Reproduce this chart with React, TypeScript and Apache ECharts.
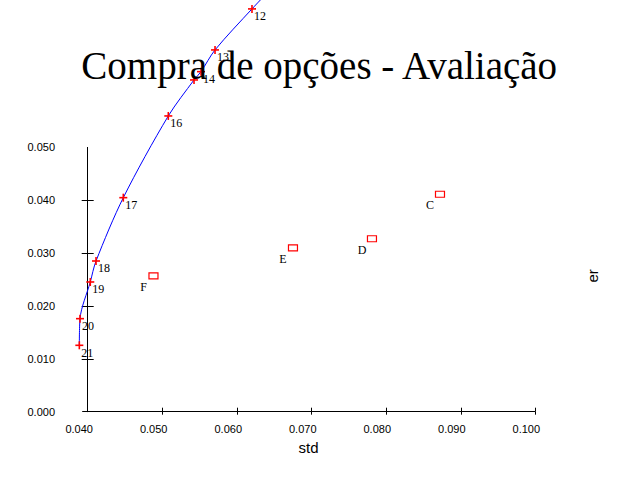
import React, { useEffect, useRef } from "react";
import * as echarts from "echarts";

const frontierLabels = ["21", "20", "19", "18", "17", "16", "", "14", "13", "12"];
const frontierStd = [0.03881, 0.0389, 0.04028, 0.04105, 0.04471, 0.05075, 0.0542, 0.05514, 0.05702, 0.06198];
const frontierEr = [0.01256, 0.0176, 0.02454, 0.02851, 0.04049, 0.05595, 0.06276, 0.06433, 0.06844, 0.0762];
// continuation of the frontier curve beyond the top of the picture
const tailStd = [0.06466];
const tailEr = [0.08017];

const assetNames = ["C", "D", "E", "F"];
const assetStd = [0.08721, 0.07808, 0.06748, 0.04876];
const assetEr = [0.04114, 0.03272, 0.03101, 0.02571];

const xTicks = [0.05, 0.06, 0.07, 0.08, 0.09, 0.1];
const xLabels = [0.04, 0.05, 0.06, 0.07, 0.08, 0.09, 0.1];
const yTicks = [0.01, 0.02, 0.03, 0.04];
const yLabels = [0, 0.01, 0.02, 0.03, 0.04, 0.05];

const titleText = "Compra de opções - Avaliação";
const xName = "std";
const yName = "er";

const SANS = '"Liberation Sans", Arial, sans-serif';
const SERIF = '"Liberation Serif", "Times New Roman", serif';

export default function App() {
  const ref = useRef<HTMLDivElement>(null);
  useEffect(() => {
    document.body.style.margin = "0";
    const chart = echarts.init(ref.current!, null, { renderer: "svg" });
    const fmt = (v: number) => Number(v).toFixed(3);
    const pxPerUnit = 7452;
    const gridLeft = 77;
    const yAxisX = 87.7;
    const xMin = 0.04 - (yAxisX + 0.5 - gridLeft) / pxPerUnit;
    const xLineStart = 0.04 - 6 / pxPerUnit;
    const baseX = {
      type: "value",
      min: xMin,
      max: 0.1,
      position: "bottom",
      splitLine: { show: false },
      axisLine: { show: false },
    };
    const baseY = {
      type: "value",
      min: 0,
      max: 0.05,
      interval: 0.01,
      position: "left",
      offset: -(yAxisX - gridLeft),
      splitLine: { show: false },
      axisLine: { show: true, lineStyle: { color: "#000", width: 1 } },
    };
    const lineData = frontierStd.map((s, i) => [s, frontierEr[i]]).concat(tailStd.map((s, i) => [s, tailEr[i]]));
    const crossData = frontierStd.map((s, i) => [s, frontierEr[i]]);
    const assetData = assetStd.map((s, i) => [s, assetEr[i]]);
    chart.setOption({
      animation: false,
      backgroundColor: "#fff",
      grid: { left: gridLeft, right: 104.7, top: 147.4, bottom: 68.3, containLabel: false },
      xAxis: [
        {
          ...baseX,
          axisTick: { show: true, inside: false, length: 3, customValues: xTicks, lineStyle: { color: "#000" } },
          axisLabel: {
            show: true,
            customValues: xLabels,
            formatter: fmt,
            margin: 12,
            padding: [0, 18, 0, 0],
            color: "#000",
            fontSize: 11,
            fontFamily: SANS,
          },
        },
        {
          ...baseX,
          axisTick: { show: true, inside: true, length: 4, customValues: xTicks, lineStyle: { color: "#000" } },
          axisLabel: { show: false },
        },
      ],
      yAxis: [
        {
          ...baseY,
          axisTick: { show: true, inside: false, length: 6, customValues: yTicks, lineStyle: { color: "#000" } },
          axisLabel: {
            show: true,
            customValues: yLabels,
            formatter: fmt,
            margin: 32.7,
            padding: [3, 0, 0, 0],
            color: "#000",
            fontSize: 11,
            fontFamily: SANS,
          },
        },
        {
          ...baseY,
          axisLine: { show: false },
          axisTick: { show: true, inside: true, length: 6, customValues: yTicks, lineStyle: { color: "#000" } },
          axisLabel: { show: false },
        },
      ],
      graphic: [
        {
          type: "text",
          x: 319.2,
          y: 65,
          z: 100,
          style: {
            text: titleText,
            font: `39px ${SERIF}`,
            fill: "#000",
            align: "center",
            verticalAlign: "middle",
            textAlign: "center",
            textVerticalAlign: "middle",
          },
        },
        {
          type: "text",
          x: 308.5,
          y: 447.8,
          style: {
            text: xName,
            font: `15px ${SANS}`,
            fill: "#000",
            align: "center",
            verticalAlign: "middle",
            textAlign: "center",
            textVerticalAlign: "middle",
          },
        },
        {
          type: "text",
          x: 592.5,
          y: 275.8,
          rotation: Math.PI / 2,
          style: {
            text: yName,
            font: `15px ${SANS}`,
            fill: "#000",
            align: "center",
            verticalAlign: "middle",
            textAlign: "center",
            textVerticalAlign: "middle",
          },
        },
      ],
      series: [
        {
          type: "line",
          data: lineData,
          smooth: 0.3,
          showSymbol: false,
          clip: false,
          lineStyle: { color: "#0000ff", width: 1 },
          silent: true,
          z: 2,
          markLine: {
            silent: true,
            symbol: "none",
            label: { show: false },
            lineStyle: { color: "#000", width: 1, type: "solid" },
            data: [[{ coord: [xLineStart, 0] }, { coord: [0.1, 0] }]],
          },
        },
        {
          type: "custom",
          data: crossData,
          clip: false,
          z: 3,
          renderItem: (params: any, api: any) => {
            const p = api.coord([api.value(0), api.value(1)]);
            const lbl = frontierLabels[params.dataIndex];
            return {
              type: "group",
              children: [
                { type: "line", shape: { x1: p[0] - 4, y1: p[1], x2: p[0] + 4, y2: p[1] }, style: { stroke: "#ff0000", lineWidth: 1.6 } },
                { type: "line", shape: { x1: p[0], y1: p[1] - 4, x2: p[0], y2: p[1] + 4 }, style: { stroke: "#ff0000", lineWidth: 1.6 } },
                {
                  type: "text",
                  x: p[0] + 2,
                  y: p[1] + 7.5,
                  style: { text: lbl, font: `12px ${SERIF}`, fill: "#000", align: "left", verticalAlign: "middle" },
                },
              ],
            };
          },
        },
        {
          type: "custom",
          data: assetData,
          clip: false,
          z: 3,
          renderItem: (params: any, api: any) => {
            const p = api.coord([api.value(0), api.value(1)]);
            const lbl = assetNames[params.dataIndex];
            return {
              type: "group",
              children: [
                { type: "rect", shape: { x: p[0] - 4.5, y: p[1] - 3, width: 9, height: 6 }, style: { stroke: "#ff0000", fill: "none", lineWidth: 1.2 } },
                {
                  type: "text",
                  x: p[0] - 10,
                  y: p[1] + 11,
                  style: { text: lbl, font: `12px ${SERIF}`, fill: "#000", align: "center", verticalAlign: "middle" },
                },
              ],
            };
          },
        },
      ],
    });
    return () => chart.dispose();
  }, []);
  return <div ref={ref} style={{ width: 640, height: 480 }} />;
}
